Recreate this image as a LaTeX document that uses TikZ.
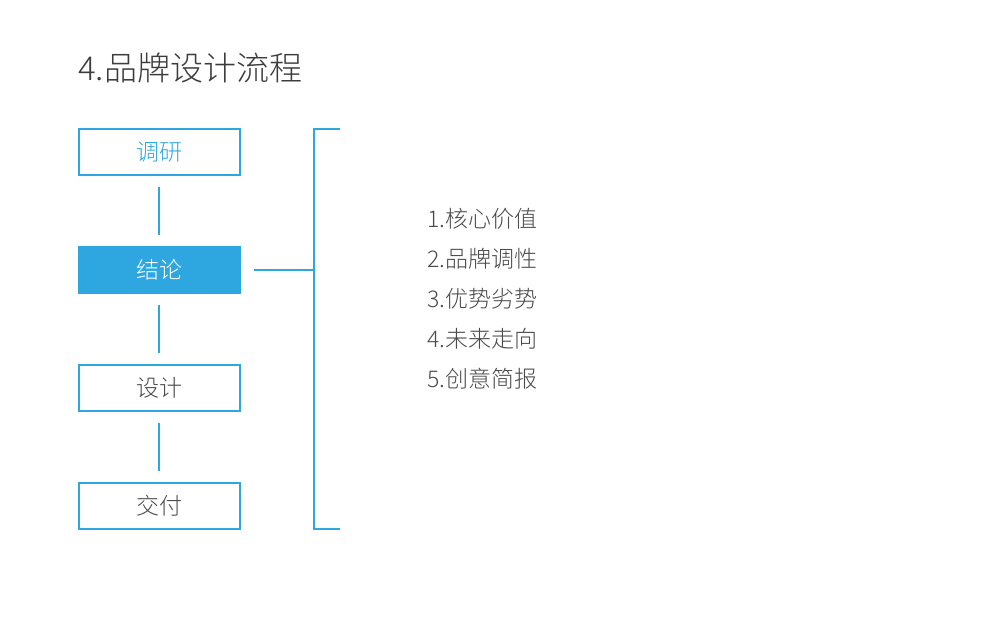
\documentclass[tikz,border=0pt]{standalone}
\usepackage{fontspec}
\setmainfont{Noto Sans CJK SC Light}
\definecolor{bblue}{HTML}{2EA7E0}
\definecolor{tgray}{HTML}{4A4A4A}
\definecolor{titlegray}{HTML}{3C3C3C}
\begin{document}
\begin{tikzpicture}[x=1pt,y=-1pt,
  stepbox/.style={draw=bblue,line width=1.3pt,minimum width=161pt,minimum height=46pt,inner sep=0pt,font=\fontsize{23}{23}\selectfont,text=tgray},
  conn/.style={draw=bblue,line width=1.5pt},
  item/.style={anchor=west,inner sep=0pt,font=\fontsize{23}{23}\selectfont,text=tgray}]
\useasboundingbox (0,0) rectangle (1000,624);
\node[anchor=west,inner sep=0pt,font=\fontsize{33}{33}\selectfont,text=titlegray] (title) at (78,68) {4.品牌设计流程};
\node[stepbox,text=bblue] (b1) at (159.5,152) {调研};
\node[stepbox,fill=bblue,text=white] (b2) at (159.5,270) {结论};
\node[stepbox] (b3) at (159.5,388) {设计};
\node[stepbox] (b4) at (159.5,506) {交付};
\draw[conn] ([xshift=-0.5pt,yshift=-11pt]b1.south) -- ([xshift=-0.5pt,yshift=11pt]b2.north);
\draw[conn] ([xshift=-0.5pt,yshift=-11pt]b2.south) -- ([xshift=-0.5pt,yshift=11pt]b3.north);
\draw[conn] ([xshift=-0.5pt,yshift=-11pt]b3.south) -- ([xshift=-0.5pt,yshift=11pt]b4.north);
\coordinate (bt) at (314,129);
\coordinate (bb) at (314,529);
\coordinate (bm) at (314,270);
\draw[conn] (340,129) -- (bt) -- (bb) -- (340,529);
\draw[conn] ([xshift=13pt]b2.east) -- (bm);
\node[item] (l1) at (427,219) {1.核心价值};
\node[item] (l2) at (427,259) {2.品牌调性};
\node[item] (l3) at (427,299) {3.优势劣势};
\node[item] (l4) at (427,339) {4.未来走向};
\node[item] (l5) at (427,379) {5.创意简报};
\end{tikzpicture}
\end{document}
